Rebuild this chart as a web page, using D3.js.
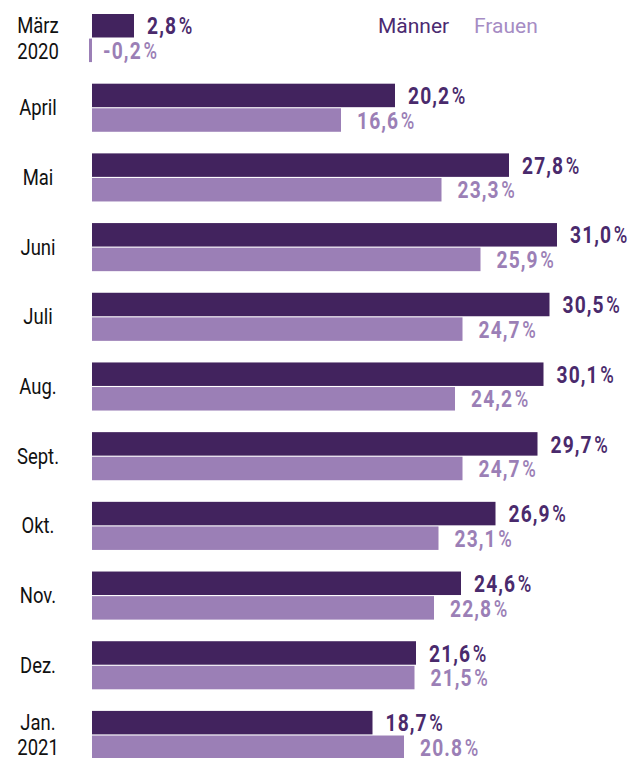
<!DOCTYPE html>
<html>
<head>
<meta charset="utf-8">
<script src="https://cdn.jsdelivr.net/npm/d3@7"></script>
<style>
  body { margin: 0; background: #fff; }
  svg text { font-family: Roboto, "Noto Sans", sans-serif; }
</style>
</head>
<body>
<div id="chart"></div>
<script>
// Monate (Label-Zeilen)
const months = [["März", "2020"], ["April"], ["Mai"], ["Juni"], ["Juli"], ["Aug."], ["Sept."], ["Okt."], ["Nov."], ["Dez."], ["Jan.", "2021"]];
const maenner = [2.8, 20.2, 27.8, 31.0, 30.5, 30.1, 29.7, 26.9, 24.6, 21.6, 18.7];
const frauen = [-0.2, 16.6, 23.3, 25.9, 24.7, 24.2, 24.7, 23.1, 22.8, 21.5, 20.8];
// Beschriftungen wie im Original (letzter Wert mit Punkt)
const maennerLabels = ["2,8", "20,2", "27,8", "31,0", "30,5", "30,1", "29,7", "26,9", "24,6", "21,6", "18,7"];
const frauenLabels = ["-0,2", "16,6", "23,3", "25,9", "24,7", "24,2", "24,7", "23,1", "22,8", "21,5", "20.8"];
const seriesNames = ["Männer", "Frauen"];

const width = 641, height = 758;
const colM = "#42235e", colF = "#9b7fb6";
const colLabelM = "#4a2a6c", colLegendF = "#a68cc4";

const svg = d3.select("#chart").append("svg")
    .attr("width", width).attr("height", height)
    .attr("viewBox", [0, 0, width, height]);

const keys = months.map((m, i) => i);
const x = d3.scaleLinear().domain([0, d3.max(maenner)]).range([92, 92 + 15 * d3.max(maenner)]);
const y = d3.scaleBand().domain(keys).range([14, 759]).paddingInner(0.31).paddingOuter(0);
const ySub = d3.scaleBand().domain(["m", "f"]).range([0, y.bandwidth()]).paddingInner(0.045);

const rows = keys.map(i => ({ i, label: months[i], m: maenner[i], f: frauen[i], lm: maennerLabels[i], lf: frauenLabels[i] }));

const g = svg.append("g").selectAll("g").data(rows).join("g")
    .attr("transform", d => `translate(0,${y(d.i)})`);

// Balken
g.append("rect")
    .attr("x", d => x(Math.min(0, d.m))).attr("y", ySub("m"))
    .attr("width", d => Math.abs(x(d.m) - x(0))).attr("height", ySub.bandwidth())
    .attr("fill", colM);
g.append("rect")
    .attr("x", d => x(Math.min(0, d.f))).attr("y", ySub("f"))
    .attr("width", d => Math.abs(x(d.f) - x(0))).attr("height", ySub.bandwidth())
    .attr("fill", colF);

// Werte (schmale fette Schrift nachgebildet)
function valueLabel(sel, key, txt, off, color) {
    sel.append("text")
        .attr("transform", d => {
            const v = d[key];
            const px = x(Math.max(0, v)) + (v < 0 ? 11 : off);
            return `translate(${px},${ySub(key) + ySub.bandwidth() / 2}) scale(0.8,1)`;
        })
        .attr("dy", "0.36em").attr("font-size", 24).attr("font-weight", "bold")
        .attr("fill", color).attr("letter-spacing", 1.4)
        .each(function (d) {
            const t = d3.select(this);
            t.append("tspan").text(d[txt]);
            t.append("tspan").attr("dx", 2).attr("font-size", 23).attr("font-weight", 500)
                .attr("letter-spacing", 0).text("%");
        });
}
valueLabel(g, "m", "lm", 13, colLabelM);
valueLabel(g, "f", "lf", 16, colF);

// Kategorien
g.append("text")
    .attr("transform", `translate(38,${y.bandwidth() / 2}) scale(0.84,1)`)
    .attr("text-anchor", "middle").attr("font-size", 22).attr("fill", "#111")
    .each(function (d) {
        const t = d3.select(this);
        if (d.label.length === 1) {
            t.append("tspan").attr("x", 0).attr("y", 7.5).text(d.label[0]);
        } else {
            t.append("tspan").attr("x", 0).attr("y", -5).text(d.label[0]);
            t.append("tspan").attr("x", 0).attr("y", 20.5).text(d.label[1]);
        }
    });

// Legende
const legend = svg.append("g").attr("font-size", 21);
legend.append("text").attr("x", 378).attr("y", 33).attr("fill", "#4b2a70").text(seriesNames[0]);
legend.append("text").attr("x", 474).attr("y", 33).attr("fill", colLegendF).text(seriesNames[1]);
</script>
</body>
</html>
